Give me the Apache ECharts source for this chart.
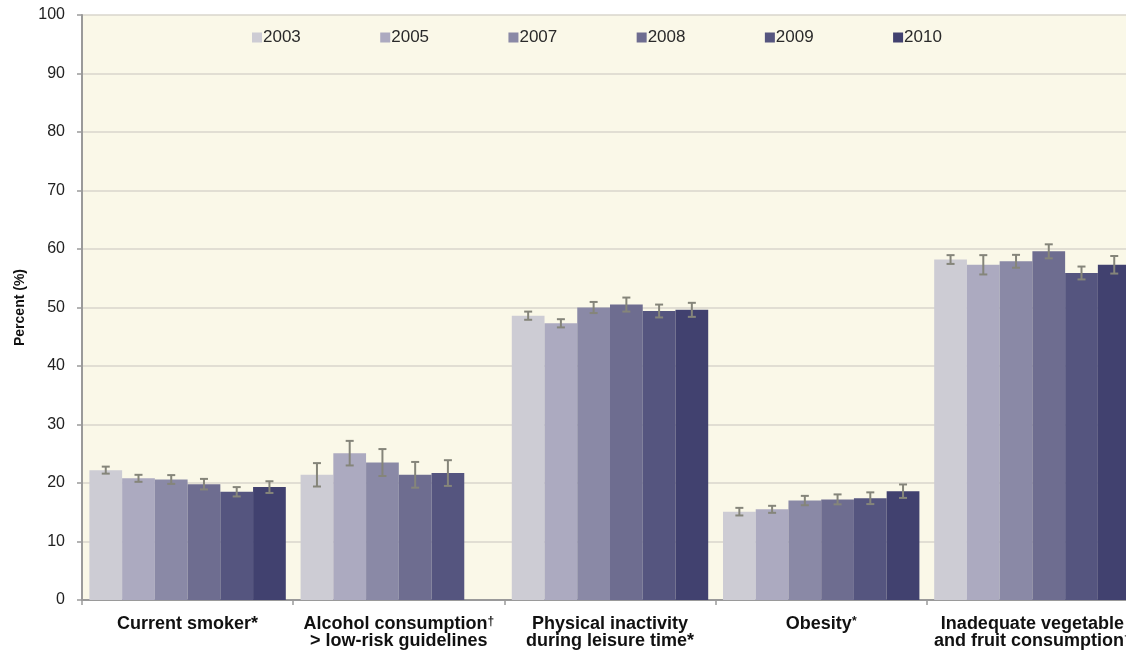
<!DOCTYPE html>
<html>
<head>
<meta charset="utf-8">
<title>Risk factors by year</title>
<script src="https://cdn.jsdelivr.net/npm/echarts@6/dist/echarts.min.js"></script>
<style>
  html, body { margin: 0; padding: 0; background: #ffffff; }
  #chart { width: 1126px; height: 652px; }
</style>
</head>
<body>
<div id="chart"></div>
<script>
// Survey years shown as grouped bars
const years = ['2003', '2005', '2007', '2008', '2009', '2010'];

// Risk-factor categories along the x axis
const categories = [
  'Current smoker*',
  'Alcohol consumption†\n> low-risk guidelines',
  'Physical inactivity\nduring leisure time*',
  'Obesity*',
  'Inadequate vegetable\nand fruit consumption†'
];

// Percent values per year (null = not measured)
const v2003 = [22.2, 21.4, 48.6, 15.1, 58.2];
const v2005 = [20.8, 25.1, 47.3, 15.5, 57.3];
const v2007 = [20.6, 23.5, 50.0, 17.0, 57.9];
const v2008 = [19.8, 21.4, 50.5, 17.2, 59.6];
const v2009 = [18.5, 21.7, 49.4, 17.4, 55.9];
const v2010 = [19.3, null, 49.6, 18.6, 57.3];

// Half-width of the 95% confidence interval per year
const e2003 = [0.6, 2.0, 0.7, 0.65, 0.75];
const e2005 = [0.6, 2.1, 0.7, 0.6, 1.65];
const e2007 = [0.75, 2.3, 0.95, 0.8, 1.1];
const e2008 = [0.9, 2.2, 1.2, 0.85, 1.2];
const e2009 = [0.8, 2.2, 1.1, 1.0, 1.1];
const e2010 = [1.0, null, 1.2, 1.15, 1.5];

// Y axis ticks
const yMin = 0, yMax = 100, yStep = 10;

const values = [v2003, v2005, v2007, v2008, v2009, v2010];
const errors = [e2003, e2005, e2007, e2008, e2009, e2010];
const colors = ['#CDCCD4', '#ACAAC0', '#8A89A6', '#6E6D90', '#55557F', '#41416F'];
const CAT_GAP = 0.07;

const chart = echarts.init(document.getElementById('chart'));

const barSeries = years.map((y, k) => ({
  name: y,
  type: 'bar',
  data: values[k],
  barGap: '0%',
  barCategoryGap: (CAT_GAP * 100) + '%',
  itemStyle: { color: colors[k] },
  z: 2
}));

const errSeries = years.map((y, k) => ({
  name: 'ci' + y,
  type: 'custom',
  z: 3,
  silent: true,
  data: values[k].map((v, i) => v == null ? [i, null, null] : [i, v - errors[k][i], v + errors[k][i]]),
  encode: { x: 0, y: [1, 2] },
  renderItem: function (params, api) {
    const lo = api.value(1), hi = api.value(2);
    if (lo == null || isNaN(lo) || hi == null || isNaN(hi)) return null;
    const band = api.size([1, 0])[0];
    const barW = band * (1 - CAT_GAP) / years.length;
    const off = (k - (years.length - 1) / 2) * barW;
    const pLo = api.coord([api.value(0), lo]);
    const pHi = api.coord([api.value(0), hi]);
    const x = pLo[0] + off;
    const cap = 4;
    const style = { stroke: '#85857A', lineWidth: 2, fill: null };
    return {
      type: 'group',
      children: [
        { type: 'line', shape: { x1: x, y1: pLo[1], x2: x, y2: pHi[1] }, style: style },
        { type: 'line', shape: { x1: x - cap, y1: pLo[1], x2: x + cap, y2: pLo[1] }, style: style },
        { type: 'line', shape: { x1: x - cap, y1: pHi[1], x2: x + cap, y2: pHi[1] }, style: style }
      ]
    };
  }
}));

// Footnote marks: dagger always raised; a lone asterisk after a single word raised too
function markLine(line) {
  let out = line.split('†').map(function (p) { return p ? '{b|' + p + '}' : ''; }).join('{sup|†}');
  if (/^\w+\*$/.test(line)) out = '{b|' + line.slice(0, -1) + '}{sup|*}';
  return out;
}

chart.setOption({
  animation: false,
  textStyle: { fontFamily: 'Liberation Sans, Arial, sans-serif' },
  grid: {
    left: 82, top: 15, width: 1056, height: 585,
    outerBoundsMode: 'none',
    show: true, backgroundColor: '#FAF8E8', borderWidth: 0
  },
  legend: {
    data: years,
    left: 247, top: 24,
    icon: 'rect', itemWidth: 10, itemHeight: 10,
    itemGap: 79.4,
    textStyle: { fontSize: 17, color: '#2a2a2a', width: 38, padding: [0, 0, 0, -4] }
  },
  xAxis: {
    type: 'category',
    data: categories,
    axisLine: { lineStyle: { color: '#9A9A9A', width: 2 } },
    axisTick: { show: true, length: 5, lineStyle: { color: '#9A9A9A', width: 1.5 } },
    axisLabel: {
      interval: 0,
      margin: 16,
      formatter: function (s) {
        return s.split('\n').map(markLine).join('\n');
      },
      rich: {
        b: { fontSize: 18, fontWeight: 'bold', color: '#111', lineHeight: 17 },
        sup: { fontSize: 12, fontWeight: 'bold', color: '#111', lineHeight: 17, verticalAlign: 'top' }
      }
    }
  },
  yAxis: {
    type: 'value',
    min: yMin, max: yMax, interval: yStep,
    name: 'Percent (%)',
    nameLocation: 'middle',
    nameGap: 53,
    nameTextStyle: { fontSize: 14, fontWeight: 'bold', color: '#111' },
    axisLine: { show: true, lineStyle: { color: '#9A9A9A', width: 2 } },
    axisTick: { show: true, length: 5, lineStyle: { color: '#9A9A9A', width: 1.5 } },
    axisLabel: { fontSize: 16, color: '#222', margin: 17 },
    splitLine: { lineStyle: { color: '#D8D6CC', width: 1.5 } }
  },
  series: barSeries.concat(errSeries)
});
</script>
</body>
</html>
